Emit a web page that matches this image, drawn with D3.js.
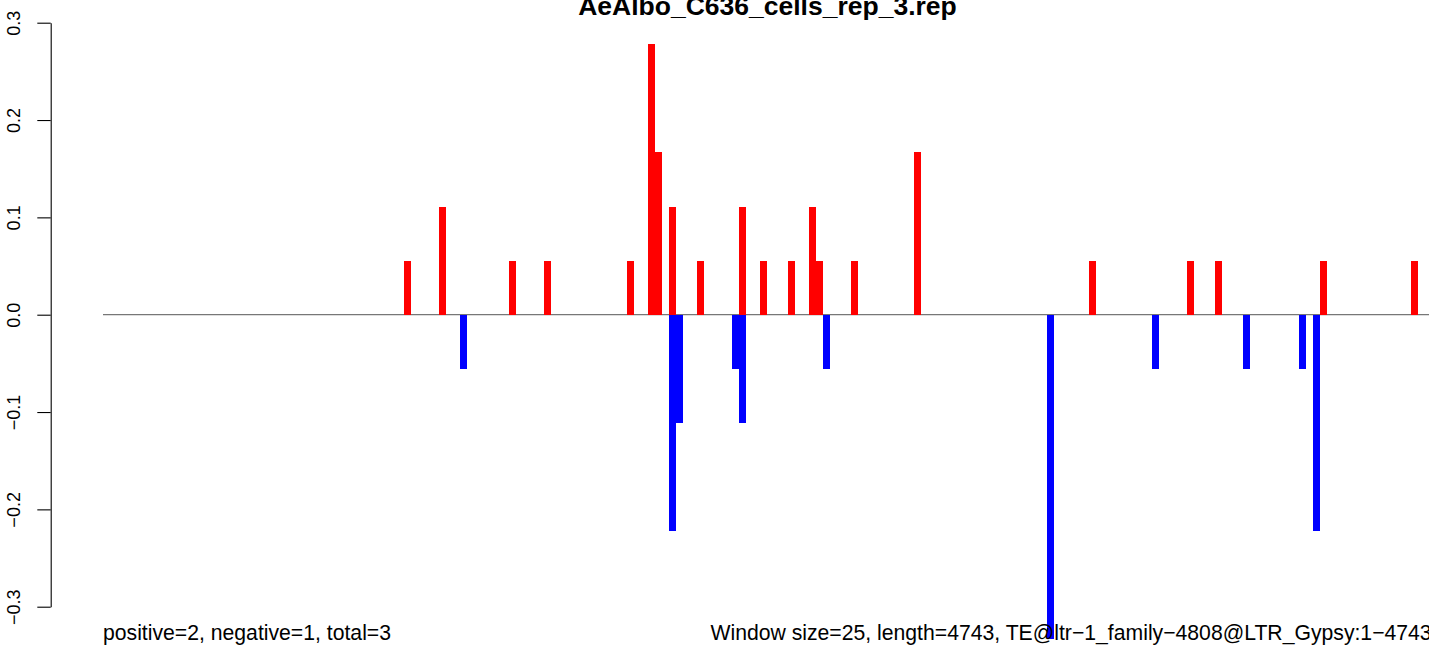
<!DOCTYPE html>
<html>
<head>
<meta charset="utf-8">
<script src="https://cdn.jsdelivr.net/npm/d3@7"></script>
<style>
  html, body { margin: 0; padding: 0; background: #fff; }
  svg { display: block; }
  text { font-family: "Liberation Sans", Arial, Helvetica, sans-serif; }
</style>
</head>
<body>
<svg id="chart" width="1429" height="645"></svg>
<script>
// ---- data ----
const title = "AeAlbo_C636_cells_rep_3.rep";
const nWindows = 190;            // ceil(4743 / 25)
const posWindows = [43, 48, 58, 63, 75, 78, 79, 81, 85, 91, 94, 98, 101, 102, 107, 116, 141, 155, 159, 174, 187];
const posValues  = [0.0556, 0.1111, 0.0556, 0.0556, 0.0556, 0.2778, 0.1667, 0.1111, 0.0556, 0.1111, 0.0556, 0.0556, 0.1111, 0.0556, 0.0556, 0.1667, 0.0556, 0.0556, 0.0556, 0.0556, 0.0556];
const negWindows = [51, 81, 82, 90, 91, 103, 135, 150, 163, 171, 173];
const negValues  = [-0.0556, -0.2222, -0.1111, -0.0556, -0.1111, -0.0556, -0.3333, -0.0556, -0.0556, -0.0556, -0.2222];
const yTicks = [-0.3, -0.2, -0.1, 0.0, 0.1, 0.2, 0.3];
const leftNote = "positive=2, negative=1, total=3";
const rightNote = "Window size=25, length=4743, TE@ltr\u22121_family\u22124808@LTR_Gypsy:1\u22124743";

// ---- build ----
const svg = d3.select("#chart");
const x = d3.scaleLinear().domain([0, nWindows]).range([103, 103 + nWindows * 6.993]);
const y = d3.scaleLinear().domain([-0.3, 0.3]).range([606.7, 22.7]);

// zero line
svg.append("line")
  .attr("x1", x(0)).attr("x2", x(nWindows))
  .attr("y1", y(0)).attr("y2", y(0))
  .attr("stroke", "#777").attr("stroke-width", 1.2);

const pos = posWindows.map((w, i) => ({w, v: posValues[i]}));
const neg = negWindows.map((w, i) => ({w, v: negValues[i]}));

svg.append("g").selectAll("rect").data(pos).join("rect")
  .attr("x", d => x(d.w)).attr("width", d => x(d.w + 1) - x(d.w))
  .attr("y", d => y(d.v)).attr("height", d => y(0) - y(d.v))
  .attr("fill", "#ff0000").attr("shape-rendering", "crispEdges");

svg.append("g").selectAll("rect").data(neg).join("rect")
  .attr("x", d => x(d.w)).attr("width", d => x(d.w + 1) - x(d.w))
  .attr("y", y(0)).attr("height", d => y(d.v) - y(0))
  .attr("fill", "#0000ff").attr("shape-rendering", "crispEdges");

// y axis
const axis = d3.axisLeft(y).tickValues(yTicks).tickFormat(d3.format(".1f"))
  .tickSize(13.4).tickSizeOuter(0);
const gAxis = svg.append("g").attr("transform", "translate(50.7,0)").call(axis);
gAxis.select(".domain").attr("stroke", "#000").attr("stroke-width", 1.1);
gAxis.selectAll(".tick line").attr("stroke", "#000").attr("stroke-width", 1.1);
gAxis.selectAll(".tick text")
  .attr("transform", "rotate(-90)")
  .attr("x", 0).attr("y", -31).attr("dy", 0)
  .attr("text-anchor", "middle")
  .attr("fill", "#000")
  .style("font-size", "18px")
  .style("font-family", "'Liberation Sans', Arial, sans-serif");

// title
svg.append("text")
  .attr("x", (50 + 1485) / 2).attr("y", 15)
  .attr("text-anchor", "middle")
  .style("font-weight", "bold").style("font-size", "26.5px")
  .text(title);

// bottom notes
svg.append("text")
  .attr("x", x(0)).attr("y", 640)
  .attr("text-anchor", "start")
  .style("font-size", "21.2px")
  .text(leftNote);
svg.append("text")
  .attr("x", x(nWindows)).attr("y", 640)
  .attr("text-anchor", "end")
  .style("font-size", "21.2px")
  .text(rightNote);
</script>
</body>
</html>
